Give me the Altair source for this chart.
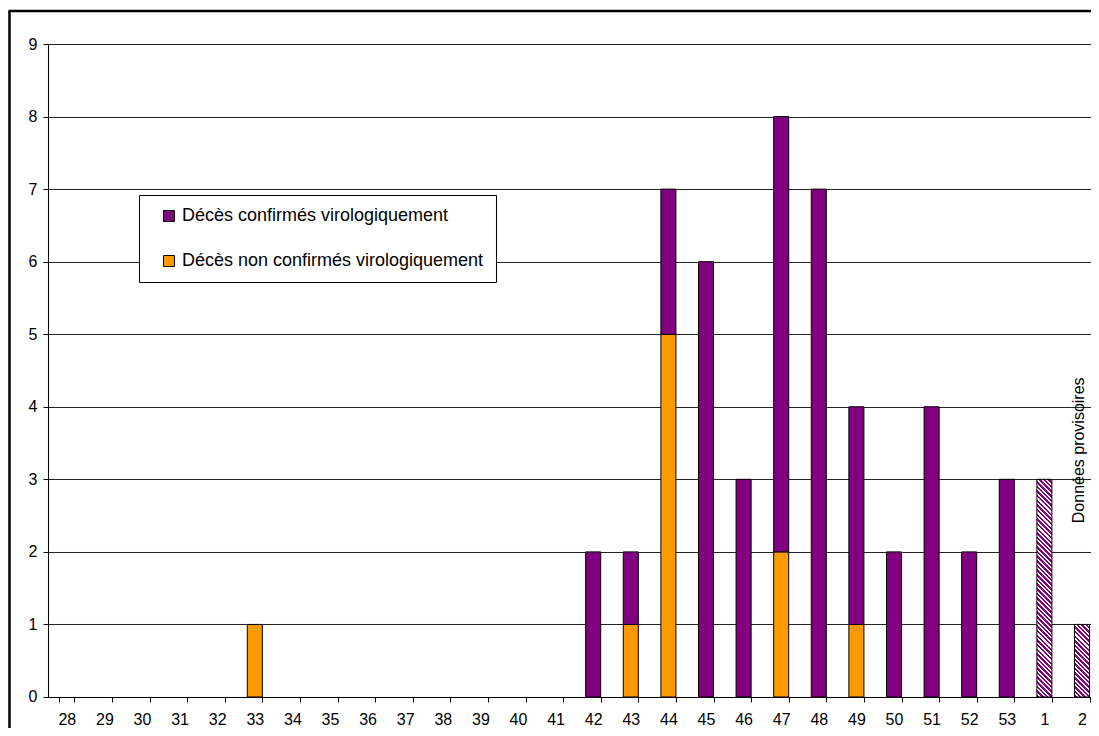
import math
import altair as alt
import pandas as pd

# ---- data ----
weeks = ["28", "29", "30", "31", "32", "33", "34", "35", "36", "37", "38", "39", "40",
         "41", "42", "43", "44", "45", "46", "47", "48", "49", "50", "51", "52", "53", "1", "2"]
confirmed = [0, 0, 0, 0, 0, 0, 0, 0, 0, 0, 0, 0, 0, 0, 2, 1, 2, 6, 3, 6, 7, 3, 2, 4, 2, 3, 0, 0]
non_confirmed = [0, 0, 0, 0, 0, 1, 0, 0, 0, 0, 0, 0, 0, 0, 0, 1, 5, 0, 0, 2, 0, 1, 0, 0, 0, 0, 0, 0]
provisional = [0] * 26 + [3, 1]
types = ["Décès confirmés virologiquement", "Décès non confirmés virologiquement"]
colors = ["#800080", "#FF9900"]
note_text = "Données provisoires"
note_week = "2"
note_y = 3.4

# ---- layout constants ----
STEP = 37.6
PAD_INNER = 0.6
PLOT_H = 653
Y_MAX = 9
FONT = "Liberation Sans"

rows = []
for w, c, n in zip(weeks, confirmed, non_confirmed):
    rows.append({"week": w, "type": types[1], "value": n, "ord": 0})
    rows.append({"week": w, "type": types[0], "value": c, "ord": 1})
df = pd.DataFrame(rows)
df = df[df["value"] > 0]

x_scale = alt.Scale(domain=weeks, paddingInner=PAD_INNER, paddingOuter=PAD_INNER / 2)
y_scale = alt.Scale(domain=[0, Y_MAX], nice=False)

x_axis = alt.Axis(title=None, labelAngle=0, labelFontSize=16, labelFont=FONT, labelColor="black",
                  tickBand="extent", tickSize=5, tickColor="black", domainColor="black",
                  labelPadding=10, grid=False)
y_axis = alt.Axis(title=None, values=list(range(0, Y_MAX + 1)), format="d", labelFontSize=16,
                  labelFont=FONT, labelColor="black", tickSize=5, tickColor="black",
                  domainColor="black", labelPadding=6, grid=True, gridColor="#222222", gridWidth=1)

bars = alt.Chart(df).mark_bar(stroke="black", strokeWidth=1).encode(
    x=alt.X("week:N", scale=x_scale, axis=x_axis),
    y=alt.Y("value:Q", stack="zero", scale=y_scale, axis=y_axis),
    color=alt.Color("type:N", scale=alt.Scale(domain=types, range=colors),
                    legend=alt.Legend(title=None, orient="none", legendX=91, legendY=151,
                                      fillColor="white", strokeColor="black", padding=12,
                                      symbolType="square", symbolSize=121,
                                      symbolStrokeColor="black", symbolStrokeWidth=1,
                                      symbolOffset=9, labelOffset=4,
                                      labelFontSize=18, labelFont=FONT, labelColor="black",
                                      labelLimit=0, rowPadding=27)),
    order=alt.Order("ord:Q"),
)


def hatch(value, period=3.3):
    w = STEP * (1 - PAD_INNER)
    h = value * PLOT_H / Y_MAX
    k = (w + h) / (w * w + h * h)
    n = max(1, round((w + h) / math.sqrt(2) / period))
    stops = []
    for i in range(n):
        a, m, b = i / n, (i + 0.55) / n, (i + 1) / n
        stops += [alt.GradientStop(offset=a, color="#800080"),
                  alt.GradientStop(offset=m, color="#800080"),
                  alt.GradientStop(offset=m, color="white"),
                  alt.GradientStop(offset=b, color="white")]
    return alt.LinearGradient(gradient="linear", stops=stops, x1=0, y1=1, x2=k * w, y2=1 - k * h)


layers = [bars]
for w, v in zip(weeks, provisional):
    if v > 0:
        layers.append(
            alt.Chart(pd.DataFrame({"week": [w], "value": [v]}))
            .mark_bar(fill=hatch(v), stroke="black", strokeWidth=1)
            .encode(x=alt.X("week:N", scale=x_scale), y=alt.Y("value:Q", scale=y_scale))
        )

note = alt.Chart(pd.DataFrame({"week": [note_week], "y": [note_y], "label": [note_text]})).mark_text(
    angle=270, fontSize=16, font=FONT, color="black", align="center", baseline="middle", dy=-3
).encode(x=alt.X("week:N", scale=x_scale), y=alt.Y("y:Q", scale=y_scale), text="label:N")

dummy = pd.DataFrame({"a": [0]})
frame_v = alt.Chart(dummy).mark_rule(color="black", strokeWidth=2.5).encode(
    x=alt.value(-38.5), y=alt.value(-33), y2=alt.value(720))
frame_h = alt.Chart(dummy).mark_rule(color="black", strokeWidth=2.5).encode(
    x=alt.value(-39.5), x2=alt.value(1200), y=alt.value(-33))
layers += [note, frame_v, frame_h]

chart = alt.layer(*layers).properties(
    width=alt.Step(STEP), height=PLOT_H,
    autosize=alt.AutoSizeParams(type="none"),
    padding={"left": 40, "top": 36, "right": -10, "bottom": 31},
    background="white",
).configure_view(stroke=None)

chart.save("out.html", embed_options={"renderer": "svg", "actions": False})
